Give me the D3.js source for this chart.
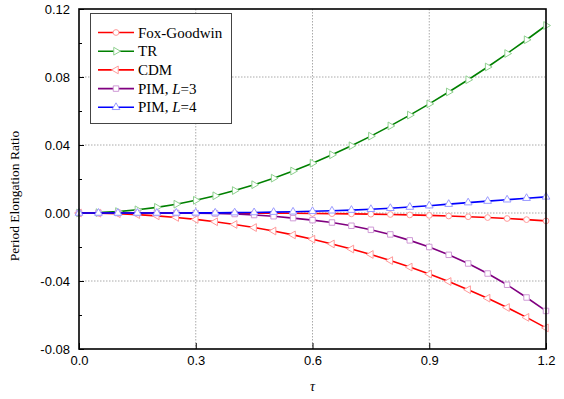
<!DOCTYPE html>
<html>
<head>
<meta charset="utf-8">
<script src="https://cdn.jsdelivr.net/npm/d3@7"></script>
<style>
  body { margin: 0; background: #fff; }
  svg { display: block; }
</style>
</head>
<body>
<div id="chart"></div>
<script>
// Period elongation ratio vs tau

const width = 564,
    height = 399,
    margin = ({ top: 9, right: 18, bottom: 50, left: 79 });

const tau = [0, 0.05, 0.1, 0.15, 0.2, 0.25, 0.3, 0.35, 0.4, 0.45, 0.5, 0.55, 0.6,
    0.65, 0.7, 0.75, 0.8, 0.85, 0.9, 0.95, 1.0, 1.05, 1.1, 1.15, 1.2];

const foxGoodwin = [0, 0, 0, 0, 0, -0.00001, -0.00002, -0.00003, -0.00005, -0.00009, -0.00013, -0.00019, -0.00027,
    -0.00038, -0.00051, -0.00068, -0.00088, -0.00113, -0.00142, -0.00177, -0.00219, -0.00267, -0.00323, -0.00389, -0.00465];

const trValues = [0, 0.00021, 0.00083, 0.00187, 0.00332, 0.00519, 0.00746, 0.01013, 0.01319, 0.01665, 0.02049, 0.0247, 0.02931,
    0.03425, 0.03955, 0.0452, 0.05123, 0.0576, 0.0642, 0.0712, 0.0784, 0.0859, 0.0938, 0.1019, 0.1103];

const cdmValues = [0, -0.0001, -0.00042, -0.00094, -0.00167, -0.00262, -0.00377, -0.00515, -0.00674, -0.00856, -0.0106, -0.01288, -0.0154,
    -0.0182, -0.0212, -0.0244, -0.028, -0.0318, -0.0359, -0.0403, -0.0451, -0.0501, -0.0556, -0.0614, -0.0676];

const pim3 = [0, 0, 0, 0, 0, -0.00001, -0.0001, -0.0003, -0.0006, -0.0012, -0.0019, -0.003, -0.0042,
    -0.0056, -0.0075, -0.0099, -0.0126, -0.0161, -0.02, -0.0246, -0.0297, -0.0356, -0.0422, -0.0497, -0.0576];

const pim4 = [0, 0, 0, 0, 0, 0.00003, 0.0001, 0.0001, 0.0002, 0.0003, 0.0005, 0.0007, 0.001,
    0.0013, 0.0017, 0.0022, 0.0028, 0.0035, 0.0043, 0.0052, 0.0061, 0.007, 0.0078, 0.0087, 0.0095];

const seriesNames = ["Fox-Goodwin", "TR", "CDM", "PIM, L=3", "PIM, L=4"];
const xTicks = [0, 0.3, 0.6, 0.9, 1.2];
const yTicks = [-0.08, -0.04, 0, 0.04, 0.08, 0.12];
const yLabels = ["-0.08", "-0.04", "0.00", "0.04", "0.08", "0.12"];
const yMinor = [-0.06, -0.02, 0.02, 0.06, 0.1];

const series = [
    { name: seriesNames[0], values: foxGoodwin, color: "#ff0000", mark: "#ff9a9a", shape: "circle" },
    { name: seriesNames[1], values: trValues, color: "#008000", mark: "#8fd08f", shape: "right" },
    { name: seriesNames[2], values: cdmValues, color: "#ff0000", mark: "#ff9a9a", shape: "left" },
    { name: seriesNames[3], values: pim3, color: "#800080", mark: "#cf9ad6", shape: "square" },
    { name: seriesNames[4], values: pim4, color: "#0000ff", mark: "#9a9aff", shape: "up" }
];

const svg = d3.select("#chart")
    .append("svg")
    .attr("width", width)
    .attr("height", height);

const x = d3.scaleLinear()
    .domain([0, 1.2])
    .range([margin.left, width - margin.right]);

const y = d3.scaleLinear()
    .domain([-0.08, 0.12])
    .range([height - margin.bottom, margin.top]);

// grid
svg.append("g")
    .selectAll("line")
    .data(xTicks.slice(1, -1))
    .join("line")
    .attr("x1", d => x(d)).attr("x2", d => x(d))
    .attr("y1", margin.top).attr("y2", height - margin.bottom)
    .attr("stroke", "#aaa")
    .attr("stroke-dasharray", "1.5,1.5");

svg.append("g")
    .selectAll("line")
    .data(yTicks.slice(1, -1))
    .join("line")
    .attr("y1", d => y(d)).attr("y2", d => y(d))
    .attr("x1", margin.left).attr("x2", width - margin.right)
    .attr("stroke", "#aaa")
    .attr("stroke-dasharray", "1.5,1.5");

// axes
svg.append("g")
    .attr("transform", `translate(${margin.left},0)`)
    .call(d3.axisLeft(y).tickValues(yTicks).tickSize(-5).tickPadding(9)
        .tickFormat((d, i) => yLabels[i]))
    .call(g => g.select(".domain").remove())
    .call(g => g.selectAll("text").attr("font-family", "Arial, 'Liberation Sans', sans-serif").attr("font-size", 13).attr("fill", "#000"));

svg.append("g")
    .attr("transform", `translate(${margin.left},0)`)
    .call(d3.axisLeft(y).tickValues(yMinor).tickSize(-3).tickFormat(""))
    .call(g => g.select(".domain").remove());

svg.append("g")
    .attr("transform", `translate(0,${height - margin.bottom})`)
    .call(d3.axisBottom(x).tickValues(xTicks).tickSize(-6).tickPadding(7).tickFormat(d3.format(".1f")))
    .call(g => g.select(".domain").remove())
    .call(g => g.selectAll("text").attr("font-family", "Arial, 'Liberation Sans', sans-serif").attr("font-size", 13).attr("fill", "#000"));

// lines
const line = d3.line()
    .x((d, i) => x(tau[i]))
    .y(d => y(d));

const shapes = {
    circle: d3.symbol(d3.symbolCircle, 26),
    square: d3.symbol(d3.symbolSquare, 30),
    up: d3.symbol(d3.symbolTriangle, 26),
    right: d3.symbol(d3.symbolTriangle, 26),
    left: d3.symbol(d3.symbolTriangle, 26)
};
const rot = { circle: 0, square: 0, up: 0, right: 90, left: -90 };

series.forEach(s => {
    svg.append("path")
        .datum(s.values)
        .attr("fill", "none")
        .attr("stroke", s.color)
        .attr("stroke-width", 1.6)
        .attr("d", line);

    svg.append("g")
        .selectAll("path")
        .data(s.values)
        .join("path")
        .attr("d", shapes[s.shape])
        .attr("transform", (d, i) => `translate(${x(tau[i])},${y(d)}) rotate(${rot[s.shape]})`)
        .attr("fill", "#fff")
        .attr("stroke", s.mark)
        .attr("stroke-width", 1);
});

// frame
svg.append("rect")
    .attr("x", margin.left)
    .attr("y", margin.top)
    .attr("width", width - margin.left - margin.right)
    .attr("height", height - margin.top - margin.bottom)
    .attr("fill", "none")
    .attr("stroke", "#000")
    .attr("stroke-width", 1.6);

// legend
const legend = svg.append("g");

legend.append("rect")
    .attr("x", 90.5).attr("y", 13.5)
    .attr("width", 141).attr("height", 110)
    .attr("fill", "#fff")
    .attr("stroke", "#444")
    .attr("stroke-width", 1);

const item = legend.selectAll("g.item")
    .data(series)
    .join("g")
    .attr("class", "item")
    .attr("transform", (d, i) => `translate(0,${32.5 + i * 18.7})`);

item.append("line")
    .attr("x1", 98).attr("x2", 134)
    .attr("stroke", d => d.color)
    .attr("stroke-width", 1.6);

item.append("path")
    .attr("d", d => shapes[d.shape]())
    .attr("transform", d => `translate(116,0) rotate(${rot[d.shape]})`)
    .attr("fill", "#fff")
    .attr("stroke", d => d.mark);

const label = item.append("text")
    .attr("x", 138)
    .attr("y", 5)
    .attr("font-family", "'Times New Roman', 'Liberation Serif', serif")
    .attr("font-size", 15);

label.each(function (d) {
    const t = d3.select(this);
    const m = d.name.match(/^(.*)L(=\d)$/);
    if (m) {
        t.append("tspan").text(m[1]);
        t.append("tspan").attr("font-style", "italic").text("L");
        t.append("tspan").text(m[2]);
    } else {
        t.text(d.name);
    }
});

// titles
svg.append("text")
    .attr("transform", "translate(19,196) rotate(-90)")
    .attr("text-anchor", "middle")
    .attr("font-family", "'Times New Roman', 'Liberation Serif', serif")
    .attr("font-size", 13.5)
    .text("Period Elongation Ratio");

svg.append("text")
    .attr("x", x(0.6))
    .attr("y", 391)
    .attr("text-anchor", "middle")
    .attr("font-family", "'Times New Roman', 'Liberation Serif', serif")
    .attr("font-style", "italic")
    .attr("font-size", 14)
    .text("τ");
</script>
</body>
</html>
